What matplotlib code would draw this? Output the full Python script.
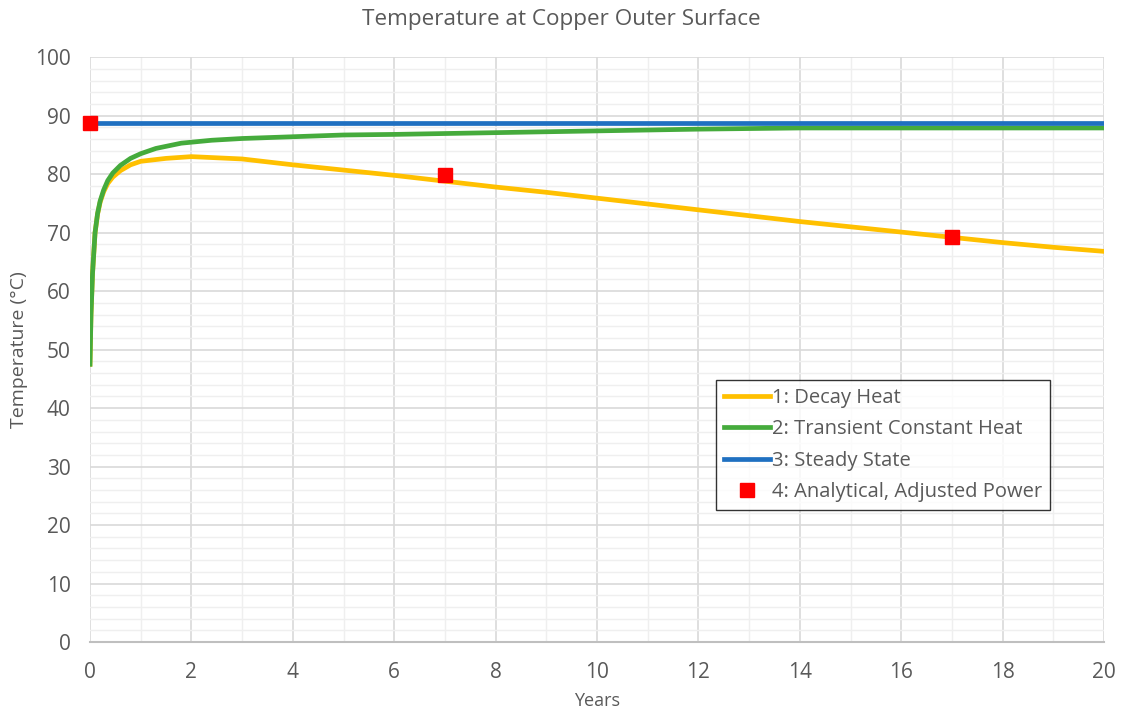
import numpy as np
import matplotlib.pyplot as plt
from matplotlib.ticker import MultipleLocator

# temperature histories at the copper outer surface
decay_years = [0.0, 0.02, 0.05, 0.1, 0.15, 0.2, 0.27, 0.35, 0.45, 0.6, 0.8, 1.0, 1.5, 2.0, 3.0, 4.0,
               5.0, 6.0, 7.0, 8.0, 9.0, 10.0, 11.0, 12.0, 13.0, 14.0, 15.0, 16.0, 17.0, 18.0, 19.0, 20.0]
decay_temp = [47.5, 56.0, 63.0, 70.0, 73.2, 75.2, 77.0, 78.4, 79.5, 80.6, 81.6, 82.2, 82.7, 83.0, 82.6, 81.6,
              80.7, 79.8, 78.8, 77.8, 76.9, 75.9, 74.9, 73.9, 72.9, 71.9, 71.0, 70.1, 69.2, 68.3, 67.5, 66.8]

const_years = [0.0, 0.02, 0.05, 0.1, 0.15, 0.2, 0.27, 0.35, 0.45, 0.6, 0.8, 1.0, 1.3, 1.8, 2.4, 3.0,
               4.0, 5.0, 6.0, 8.0, 10.0, 12.0, 14.0, 16.0, 18.0, 20.0]
const_temp = [47.5, 56.0, 63.0, 70.0, 73.3, 75.4, 77.3, 78.9, 80.2, 81.5, 82.7, 83.5, 84.4, 85.3, 85.8, 86.1,
              86.4, 86.7, 86.8, 87.1, 87.4, 87.7, 87.9, 87.9, 87.9, 87.9]

steady_years = [0.0, 20.0]
steady_temp = [88.7, 88.7]

analytic_years = [0, 7, 17]
analytic_temp = [88.7, 79.8, 69.3]

text_color = '#595959'
plt.rcParams['font.family'] = ['Open Sans', 'DejaVu Sans']

fig = plt.figure(figsize=(11.22, 7.15), dpi=100)
ax = fig.add_axes([0.0802, 0.102, 0.9038, 0.818])

ax.plot(decay_years, decay_temp, color='#FFC000', lw=3.4, label='1: Decay Heat', zorder=3)
ax.plot(const_years, const_temp, color='#45AB3C', lw=3.4, label='2: Transient Constant Heat', zorder=4)
ax.plot(steady_years, steady_temp, color='#1F70C1', lw=3.4, label='3: Steady State', zorder=5)
ax.plot(analytic_years, analytic_temp, ls='none', marker='s', ms=10, color='#FF0000',
        label='4: Analytical, Adjusted Power', zorder=6, clip_on=False)

ax.set_xlim(0, 20)
ax.set_ylim(0, 100)
ax.xaxis.set_major_locator(MultipleLocator(2))
ax.xaxis.set_minor_locator(MultipleLocator(1))
ax.yaxis.set_major_locator(MultipleLocator(10))
ax.yaxis.set_minor_locator(MultipleLocator(2))
ax.grid(which='major', color='#D9D9D9', lw=1.2)
ax.grid(which='minor', color='#EFEFEF', lw=1.0)
ax.set_axisbelow(True)

for side in ['top', 'right', 'left']:
    ax.spines[side].set_visible(False)
ax.spines['bottom'].set_color('#BFBFBF')
ax.spines['bottom'].set_linewidth(1.5)

ax.tick_params(which='both', length=0, labelsize=15, labelcolor=text_color)
ax.tick_params(axis='x', pad=14)
ax.tick_params(axis='y', pad=14)

# title sits centred on the whole figure, not on the plot area
ax.set_title('Temperature at Copper Outer Surface', fontsize=16.2, color=text_color, pad=23, x=0.4645)
ax.set_xlabel('Years', fontsize=13, color=text_color, labelpad=7)
ax.set_ylabel('Temperature (°C)', fontsize=14, color=text_color, labelpad=5)

leg = ax.legend(loc='upper left', bbox_to_anchor=(0.617, 0.448), borderaxespad=0, fontsize=14.5,
                frameon=True, fancybox=False, edgecolor='black', handlelength=2.3,
                handletextpad=0.1, labelspacing=0.56, borderpad=0.4, labelcolor=text_color)
leg.get_frame().set_linewidth(1.0)

fig.savefig('out.png', dpi=100)
